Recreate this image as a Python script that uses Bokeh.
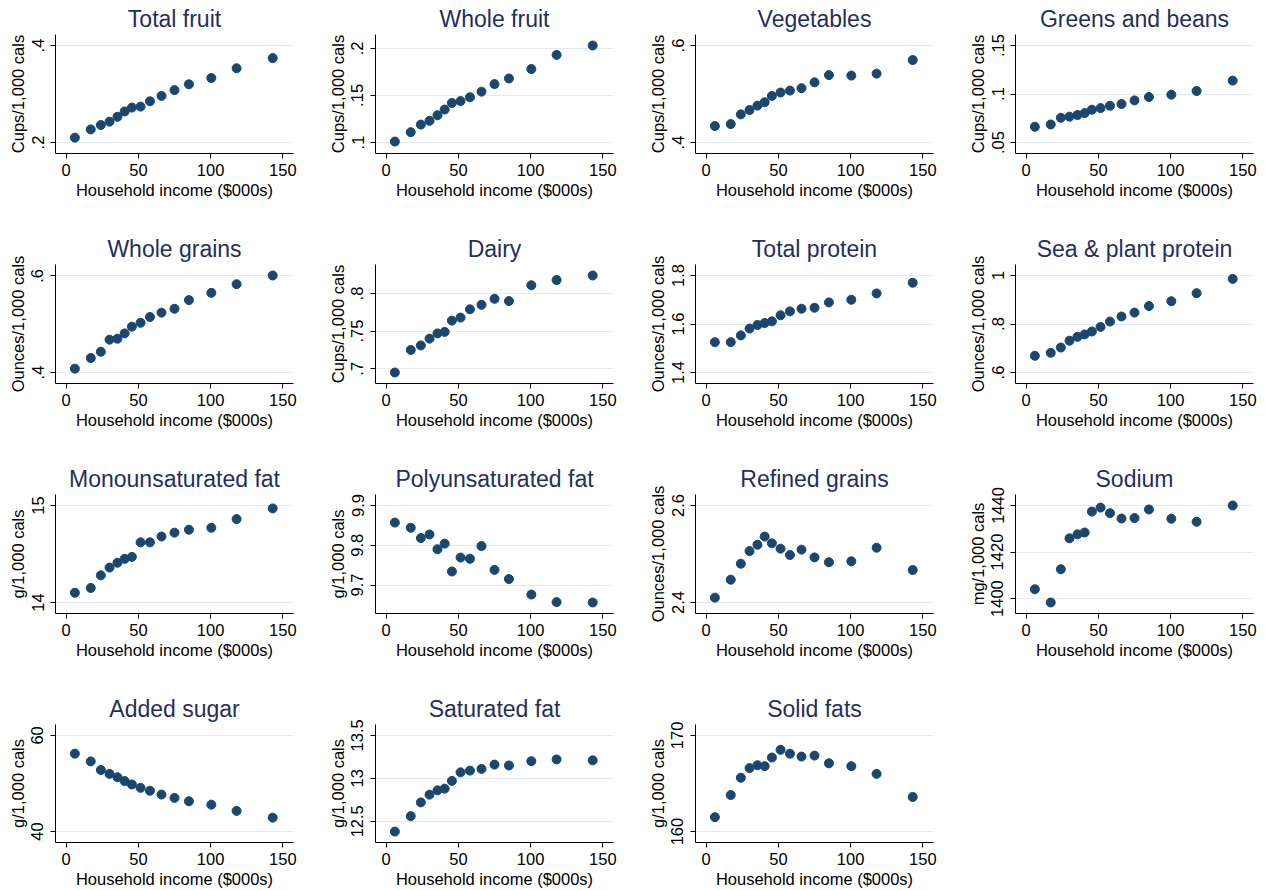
from bokeh.plotting import figure
from bokeh.layouts import gridplot
from bokeh.models import Range1d
from bokeh.embed import file_html
from bokeh.resources import INLINE

# Household income bins ($000s)
income = [6, 17, 24, 30, 35.5, 40.5, 45.5, 51.5, 58, 66, 75, 85, 100.5, 118, 143]
x_ticks = [0, 50, 100, 150]

total_fruit = [0.210, 0.227, 0.236, 0.243, 0.253, 0.264, 0.272, 0.274, 0.285, 0.296, 0.308, 0.320, 0.333, 0.353, 0.374]
whole_fruit = [0.101, 0.111, 0.119, 0.123, 0.129, 0.135, 0.142, 0.144, 0.148, 0.154, 0.162, 0.168, 0.178, 0.193, 0.203]
vegetables = [0.434, 0.438, 0.458, 0.467, 0.476, 0.483, 0.496, 0.503, 0.507, 0.512, 0.524, 0.539, 0.538, 0.542, 0.570]
greens_beans = [0.0662, 0.0686, 0.0755, 0.0766, 0.0783, 0.0803, 0.0838, 0.0855, 0.0879, 0.0897, 0.0934, 0.0969, 0.0993, 0.1031, 0.1138]
whole_grains = [0.408, 0.430, 0.443, 0.468, 0.470, 0.481, 0.495, 0.503, 0.515, 0.524, 0.532, 0.550, 0.565, 0.583, 0.601]
dairy = [0.695, 0.725, 0.731, 0.740, 0.747, 0.749, 0.764, 0.768, 0.779, 0.785, 0.793, 0.790, 0.811, 0.818, 0.824]
total_protein = [1.525, 1.525, 1.553, 1.581, 1.596, 1.604, 1.611, 1.636, 1.652, 1.663, 1.667, 1.689, 1.700, 1.726, 1.770]
sea_plant_protein = [0.669, 0.681, 0.703, 0.731, 0.747, 0.757, 0.769, 0.788, 0.810, 0.831, 0.847, 0.874, 0.894, 0.927, 0.986]
mono_fat = [14.10, 14.15, 14.28, 14.36, 14.41, 14.45, 14.47, 14.62, 14.62, 14.68, 14.72, 14.75, 14.77, 14.86, 14.97]
poly_fat = [9.857, 9.844, 9.818, 9.827, 9.790, 9.804, 9.734, 9.769, 9.766, 9.798, 9.738, 9.715, 9.676, 9.657, 9.656]
refined_grains = [2.410, 2.447, 2.480, 2.506, 2.519, 2.536, 2.522, 2.511, 2.498, 2.509, 2.493, 2.483, 2.485, 2.513, 2.467]
sodium = [1404.0, 1398.3, 1412.6, 1425.9, 1427.6, 1428.4, 1437.4, 1439.1, 1436.7, 1434.4, 1434.6, 1438.3, 1434.3, 1433.0, 1440.0]
added_sugar = [56.2, 54.6, 52.8, 52.0, 51.3, 50.5, 49.8, 49.1, 48.5, 47.7, 47.0, 46.3, 45.6, 44.3, 42.9]
saturated_fat = [12.38, 12.56, 12.72, 12.81, 12.86, 12.88, 12.97, 13.07, 13.09, 13.11, 13.16, 13.15, 13.20, 13.22, 13.21]
solid_fats = [161.5, 163.8, 165.6, 166.6, 166.9, 166.8, 167.7, 168.5, 168.1, 167.8, 167.9, 167.1, 166.8, 166.0, 163.6]

titles = ["Total fruit", "Whole fruit", "Vegetables", "Greens and beans",
          "Whole grains", "Dairy", "Total protein", "Sea & plant protein",
          "Monounsaturated fat", "Polyunsaturated fat", "Refined grains", "Sodium",
          "Added sugar", "Saturated fat", "Solid fats"]
y_labels = ["Cups/1,000 cals", "Cups/1,000 cals", "Cups/1,000 cals", "Cups/1,000 cals",
            "Ounces/1,000 cals", "Cups/1,000 cals", "Ounces/1,000 cals", "Ounces/1,000 cals",
            "g/1,000 cals", "g/1,000 cals", "Ounces/1,000 cals", "mg/1,000 cals",
            "g/1,000 cals", "g/1,000 cals", "g/1,000 cals"]
series = [total_fruit, whole_fruit, vegetables, greens_beans,
          whole_grains, dairy, total_protein, sea_plant_protein,
          mono_fat, poly_fat, refined_grains, sodium,
          added_sugar, saturated_fat, solid_fats]
y_ticks = [[0.2, 0.4], [0.1, 0.15, 0.2], [0.4, 0.6], [0.05, 0.1, 0.15],
           [0.4, 0.6], [0.7, 0.75, 0.8], [1.4, 1.6, 1.8], [0.6, 0.8, 1.0],
           [14, 15], [9.7, 9.8, 9.9], [2.4, 2.6], [1400, 1420, 1440],
           [40, 60], [12.5, 13, 13.5], [160, 170]]

FONT = "Liberation Sans"
TITLE_COLOR = "#1f2f5e"
MARKER_COLOR = "#1a476f"
GRID_COLOR = "#e2ebee"

FRAME_W = 238
FRAME_H = 119
LEFT = 55
TOP = 34
PAD_FRAC = 11.0 / 97.0


def stata_fmt(v):
    s = f"{v:g}"
    if s.startswith("0."):
        s = s[1:]
    return s


def make_panel(i):
    col, row = i % 4, i // 4
    w = 320 if col < 3 else 305
    h = 230 if row < 3 else 200
    ys = series[i]
    ticks = y_ticks[i]
    lo = min(min(ys), min(ticks))
    hi = max(max(ys), max(ticks))
    pad = (hi - lo) * PAD_FRAC
    xpad = 150 * 10.7 / 216.7
    p = figure(width=w, height=h, output_backend="svg", toolbar_location=None,
               x_range=Range1d(0 - xpad, 150 + xpad), y_range=Range1d(lo - pad, hi + pad),
               min_border_left=LEFT, min_border_right=w - LEFT - FRAME_W,
               min_border_top=TOP, min_border_bottom=h - TOP - FRAME_H)
    p.outline_line_color = None
    p.background_fill_color = "white"
    p.border_fill_color = "white"

    p.title.text = titles[i]
    p.title.align = "center"
    p.title.text_font = FONT
    p.title.text_font_size = "23px"
    p.title.text_font_style = "normal"
    p.title.text_color = TITLE_COLOR
    p.title.standoff = 5

    p.xgrid.visible = False
    p.ygrid.grid_line_color = GRID_COLOR
    p.ygrid.grid_line_width = 1

    for ax in (p.xaxis[0], p.yaxis[0]):
        ax.axis_line_color = "black"
        ax.axis_line_width = 1
        ax.major_tick_line_color = "black"
        ax.major_tick_in = 0
        ax.major_tick_out = 5
        ax.minor_tick_line_color = None
        ax.major_label_text_font = FONT
        ax.major_label_text_font_size = "16.5px"
        ax.major_label_text_color = "black"
        ax.axis_label_text_font = FONT
        ax.axis_label_text_font_size = "16.5px"
        ax.axis_label_text_font_style = "normal"
        ax.axis_label_text_color = "black"

    p.xaxis.ticker = x_ticks
    p.xaxis.major_label_overrides = {t: stata_fmt(t) for t in x_ticks}
    p.xaxis.axis_label = "Household income ($000s)"
    p.xaxis.major_label_standoff = 5
    p.xaxis.axis_label_standoff = 2

    p.yaxis.ticker = ticks
    p.yaxis.major_label_overrides = {t: stata_fmt(t) for t in ticks}
    p.yaxis.major_label_orientation = "vertical"
    p.yaxis.axis_label = y_labels[i]
    p.yaxis.major_label_standoff = 7
    p.yaxis.axis_label_standoff = 2

    p.scatter(income, ys, size=9, marker="circle", fill_color=MARKER_COLOR,
              line_color=MARKER_COLOR)
    return p


panels = [make_panel(i) for i in range(len(titles))]
rows = [panels[0:4], panels[4:8], panels[8:12], panels[12:15] + [None]]
grid = gridplot(rows, toolbar_location=None)

open("out.html", "w").write(file_html(grid, INLINE))
